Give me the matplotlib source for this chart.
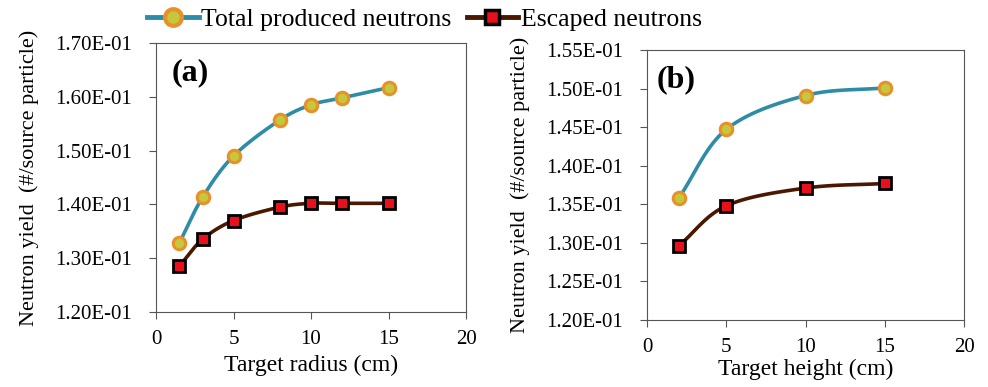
import numpy as np
import matplotlib
matplotlib.use("Agg")
import matplotlib.pyplot as plt
from matplotlib.lines import Line2D

plt.rcParams['font.family'] = ['Liberation Serif', 'DejaVu Serif']

# panel (a): target radius
radius = [1.5, 3, 5, 8, 10, 12, 15]
total_a = [0.1328, 0.1413, 0.1490, 0.1557, 0.1585, 0.1598, 0.1617]
escaped_a = [0.1285, 0.1335, 0.1370, 0.1395, 0.1402, 0.1402, 0.1402]

# panel (b): target height
height = [2, 5, 10, 15]
total_b = [0.1358, 0.1447, 0.1491, 0.1501]
escaped_b = [0.1296, 0.1348, 0.1371, 0.1377]

teal = '#2f8ca6'
orange = '#e8902a'
green = '#c5c83c'
brown = '#4a1800'
red = '#e8101a'


def smooth(x, y, n=30):
    # Catmull-Rom style smoothing like Excel's smoothed line
    x = np.asarray(x, float)
    y = np.asarray(y, float)
    px = np.concatenate([[2 * x[0] - x[1]], x, [2 * x[-1] - x[-2]]])
    py = np.concatenate([[2 * y[0] - y[1]], y, [2 * y[-1] - y[-2]]])
    xs, ys = [], []
    for i in range(1, len(px) - 2):
        t = np.linspace(0, 1, n)
        for p, out in ((px, xs), (py, ys)):
            p0, p1, p2, p3 = p[i - 1], p[i], p[i + 1], p[i + 2]
            out.append(0.5 * ((2 * p1) + (-p0 + p2) * t
                              + (2 * p0 - 5 * p1 + 4 * p2 - p3) * t ** 2
                              + (-p0 + 3 * p1 - 3 * p2 + p3) * t ** 3))
    return np.concatenate(xs), np.concatenate(ys)


def draw(ax, x, tot, esc):
    sx, sy = smooth(x, tot)
    ax.plot(sx, sy, color=teal, lw=2.6, zorder=2)
    ax.plot(x, tot, 'o', ms=9, mfc=green, mec=orange, mew=2.2, zorder=3)
    sx, sy = smooth(x, esc)
    ax.plot(sx, sy, color=brown, lw=2.6, zorder=2)
    ax.plot(x, esc, 's', ms=8, mfc=red, mec='black', mew=2.0, zorder=3)
    ax.set_xlim(0, 20)
    ax.set_xticks([0, 5, 10, 15, 20])
    ax.yaxis.set_major_formatter(plt.FuncFormatter(lambda v, p: '%.2E' % v))
    ax.tick_params(labelsize=15, length=5, color='#555555')
    ax.tick_params(axis='y', pad=12)
    ax.tick_params(axis='x', pad=8)
    for s in ax.spines.values():
        s.set_color('#555555')
    ax.set_ylabel('Neutron yield  (#/source particle)', fontsize=16,
                  labelpad=12)


fig = plt.figure(figsize=(9.88, 3.87), dpi=100)
ax1 = fig.add_axes([156 / 988, 1 - 312 / 387, 310 / 988, 269 / 387])
ax2 = fig.add_axes([647 / 988, 1 - 320 / 387, 317 / 988, 270 / 387])

draw(ax1, radius, total_a, escaped_a)
ax1.set_ylim(0.12, 0.17)
ax1.set_yticks(np.arange(0.12, 0.1701, 0.01))
ax1.set_xlabel('Target radius (cm)', fontsize=17, labelpad=4)
ax1.text(0.05, 0.89, '(a)', transform=ax1.transAxes, fontsize=23,
         fontweight='bold', va='center')

draw(ax2, height, total_b, escaped_b)
ax2.set_ylim(0.12, 0.155)
ax2.set_yticks(np.arange(0.12, 0.1551, 0.005))
ax2.set_xlabel('Target height (cm)', fontsize=17, labelpad=1)
ax2.text(0.03, 0.89, '(b)', transform=ax2.transAxes, fontsize=23,
         fontweight='bold', va='center')

handles = [
    Line2D([], [], color=teal, lw=3.5, marker='o', ms=12, mfc=green,
           mec=orange, mew=3),
    Line2D([], [], color=brown, lw=3.5, marker='s', ms=10, mfc=red,
           mec='black', mew=2.5),
]
fig.legend(handles, ['Total produced neutrons', 'Escaped neutrons'],
           loc='upper left', bbox_to_anchor=(124 / 988, 1.04), ncol=2,
           frameon=False, fontsize=18.5, handlelength=2.0, handletextpad=0.1,
           columnspacing=0.6)

fig.savefig('out.png', dpi=100)
